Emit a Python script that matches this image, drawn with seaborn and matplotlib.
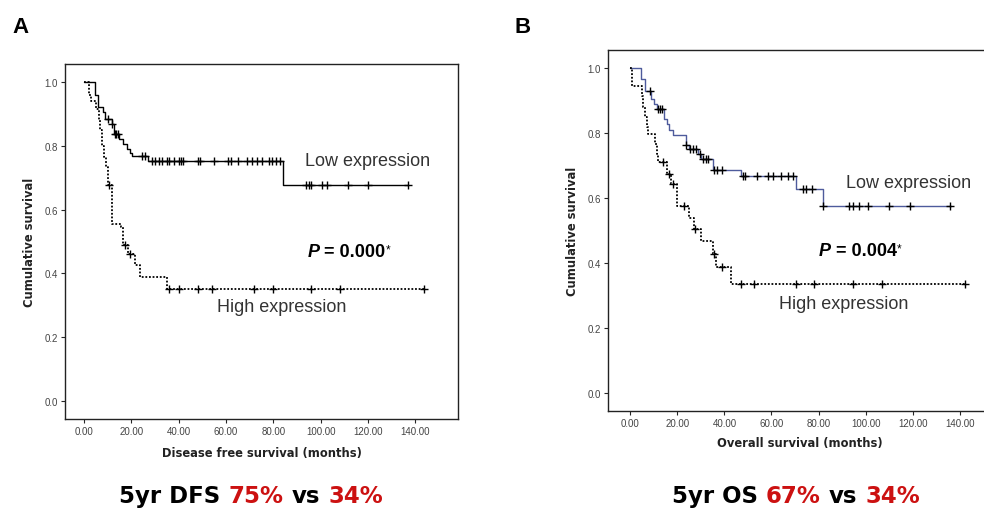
import numpy as np
import matplotlib
matplotlib.use("Agg")
import matplotlib.pyplot as plt
import seaborn as sns

# ---- data ----
# Panel A: disease free survival (step start times / survival after the step)
dfs_low_t = [0, 4.5, 6, 8, 9, 11.8, 12.5, 15, 16.5, 18, 19.5, 20.5, 27, 84, 137]
dfs_low_s = [1.0, 0.96, 0.92, 0.905, 0.885, 0.868, 0.838, 0.82, 0.805, 0.79, 0.776, 0.768, 0.752, 0.677, 0.677]
dfs_low_cens = [10, 12, 13, 13.5, 14.5, 24.5, 25.8, 28.7, 30, 31.5, 33, 35, 36, 38, 40, 41, 42,
                48, 49, 55, 61, 62, 65, 69, 71, 73, 75, 78, 79.5, 81, 83,
                94, 95, 96, 100.6, 102.7, 111.6, 120, 137]

dfs_high_t = [0, 2, 3, 5, 6.2, 6.8, 7.5, 8.5, 9.2, 10, 12, 15.5, 16.3, 18.5, 21.5, 23.5, 35, 143.6]
dfs_high_s = [1.0, 0.96, 0.94, 0.915, 0.88, 0.848, 0.80, 0.765, 0.733, 0.677, 0.555, 0.545, 0.49,
              0.46, 0.425, 0.39, 0.351, 0.351]
dfs_high_cens = [10.5, 17.3, 19.4, 36, 40, 48, 54, 72, 80, 96, 108, 143.6]

# Panel B: overall survival
os_low_t = [0, 4.5, 6.5, 9, 10, 11.5, 14.5, 15.5, 16.5, 18, 23.5, 25, 29, 30, 35, 47, 70.5, 82, 136]
os_low_s = [1.0, 0.966, 0.93, 0.905, 0.89, 0.874, 0.843, 0.828, 0.81, 0.794, 0.763, 0.751, 0.735,
            0.72, 0.687, 0.667, 0.628, 0.576, 0.576]
os_low_cens = [8.5, 12, 12.5, 13.7, 23.5, 25.5, 26.5, 28, 29.5, 31, 32, 33, 35.5, 37, 39,
               48, 48.7, 54, 58.5, 60.6, 64, 67, 69, 73.4, 74.7, 77, 82,
               93, 94.7, 97.3, 101, 110, 118.7, 135.7]

os_high_t = [0, 0.6, 5, 5.5, 6.2, 7, 7.7, 10.7, 11.5, 12, 15.5, 17.5, 20, 24.8, 27, 30, 35, 36.5, 42.7, 142]
os_high_s = [1.0, 0.944, 0.915, 0.88, 0.85, 0.82, 0.797, 0.765, 0.735, 0.71, 0.674, 0.643, 0.576,
             0.54, 0.505, 0.468, 0.428, 0.388, 0.335, 0.335]
os_high_cens = [14, 16.3, 18.4, 22.7, 27.7, 35.5, 39, 47, 52.5, 70.4, 78, 94.7, 106.7, 142]

xtick_vals = [0, 20, 40, 60, 80, 100, 120, 140]
xtick_labels = ["0.00", "20.00", "40.00", "60.00", "80.00", "100.00", "120.00", "140.00"]
ytick_vals = [0.0, 0.2, 0.4, 0.6, 0.8, 1.0]
ytick_labels = ["0.0", "0.2", "0.4", "0.6", "0.8", "1.0"]

sns.set_style("ticks")
plt.rcParams["font.family"] = ["Liberation Sans", "DejaVu Sans"]

TXT = "#333333"
RED = "#cc1111"
BLUE = "#4e5b9c"

fig = plt.figure(figsize=(9.84, 5.10), dpi=100)
axA = fig.add_axes([65 / 984, 90 / 510, 393 / 984, 355 / 510])
axB = fig.add_axes([608 / 984, 98 / 510, 384 / 984, 361 / 510])


def draw_curve(ax, t, s, cens, color, ls, lw):
    sns.lineplot(x=t, y=s, ax=ax, drawstyle="steps-post", color=color, linestyle=ls,
                 linewidth=lw, estimator=None, sort=False)
    idx = np.searchsorted(t, cens, side="right") - 1
    cy = np.asarray(s)[np.clip(idx, 0, len(s) - 1)]
    sns.scatterplot(x=cens, y=cy, ax=ax, marker="+", s=28, color="black",
                    linewidth=1.0, zorder=3)


def style_axes(ax, xlim, xlabel, xpad):
    ax.set_xlim(*xlim)
    ax.set_ylim(-0.056, 1.056)
    ax.set_xticks(xtick_vals)
    ax.set_xticklabels(xtick_labels)
    ax.set_yticks(ytick_vals)
    ax.set_yticklabels(ytick_labels)
    ax.tick_params(direction="out", length=3, width=0.8, labelsize=7,
                   labelcolor="#444444", pad=2)
    for sp in ax.spines.values():
        sp.set_visible(True)
        sp.set_linewidth(1.0)
        sp.set_color("#222222")
    ax.set_xlabel(xlabel, fontsize=8.3, fontweight="bold", family="DejaVu Sans",
                  labelpad=xpad, color="#222222")
    ax.set_ylabel("Cumulative survival", fontsize=8.3, fontweight="bold",
                  family="DejaVu Sans", labelpad=6, color="#222222")


def rich(x, y, pieces, ha="center"):
    # pieces: (text, kwargs, space_before, raise_px); x, y in figure pixels, y = baseline
    r = fig.canvas.get_renderer()
    W, H = fig.bbox.width, fig.bbox.height
    arts, xs, cur = [], [], 0.0
    for txt, kw, gap, dy in pieces:
        if gap:
            a = fig.text(0, 0, "n n", **kw)
            b = fig.text(0, 0, "nn", **kw)
            cur += a.get_window_extent(r).width - b.get_window_extent(r).width
            a.remove()
            b.remove()
        t = fig.text(0, (y + dy) / H, txt, va="baseline", ha="left", **kw)
        arts.append(t)
        xs.append(cur)
        cur += t.get_window_extent(r).width
    off = x - (cur / 2 if ha == "center" else 0)
    for t, xx in zip(arts, xs):
        t.set_x((off + xx) / W)


def data_to_px(ax, x, y):
    return ax.transData.transform((x, y))


# ---- panel A ----
draw_curve(axA, dfs_low_t, dfs_low_s, dfs_low_cens, "black", "-", 1.0)
draw_curve(axA, dfs_high_t, dfs_high_s, dfs_high_cens, "black", (0, (1, 1)), 1.3)
style_axes(axA, (-8, 158), "Disease free survival (months)", 7)
axA.text(93.4, 0.755, "Low expression", fontsize=13, color=TXT, va="center")
axA.text(56.2, 0.295, "High expression", fontsize=13, color=TXT, va="center")

# ---- panel B ----
draw_curve(axB, os_low_t, os_low_s, os_low_cens, BLUE, "-", 1.0)
draw_curve(axB, os_high_t, os_high_s, os_high_cens, "black", (0, (1, 1)), 1.3)
style_axes(axB, (-9.4, 153.6), "Overall survival (months)", 6)
axB.text(91.8, 0.649, "Low expression", fontsize=13, color=TXT, va="center")
axB.text(63.2, 0.274, "High expression", fontsize=13, color=TXT, va="center")

fig.canvas.draw()

# P values
bold = dict(fontsize=13, fontweight="bold", color="black")
for ax, (px, py), val in [(axA, (94.3, 0.455), "= 0.000"), (axB, (80.2, 0.425), "= 0.004")]:
    x0, y0 = data_to_px(ax, px, py)
    rich(x0, y0, [("P", dict(fontsize=13, fontweight="bold", style="italic", color="black"), False, 0),
                  (val, bold, True, 0),
                  ("*", dict(fontsize=8.5, color="black"), False, 3)], ha="left")

# panel letters
fig.text(12 / 984, 1 - 33 / 510, "A", fontsize=16, fontweight="bold", va="baseline", color="black")
fig.text(515 / 984, 1 - 33 / 510, "B", fontsize=16, fontweight="bold", va="baseline", color="black")

# bottom captions
cap = dict(fontsize=16.5, fontweight="bold", family=["DejaVu Sans"])
blk = dict(cap, color="black")
red = dict(cap, color=RED)
rich(251, 510 - 503, [("5yr DFS", blk, False, 0), ("75%", red, True, 0),
                      ("vs", blk, True, 0), ("34%", red, True, 0)])
rich(796, 510 - 503, [("5yr OS", blk, False, 0), ("67%", red, True, 0),
                      ("vs", blk, True, 0), ("34%", red, True, 0)])

fig.savefig("out.png", dpi=100)
